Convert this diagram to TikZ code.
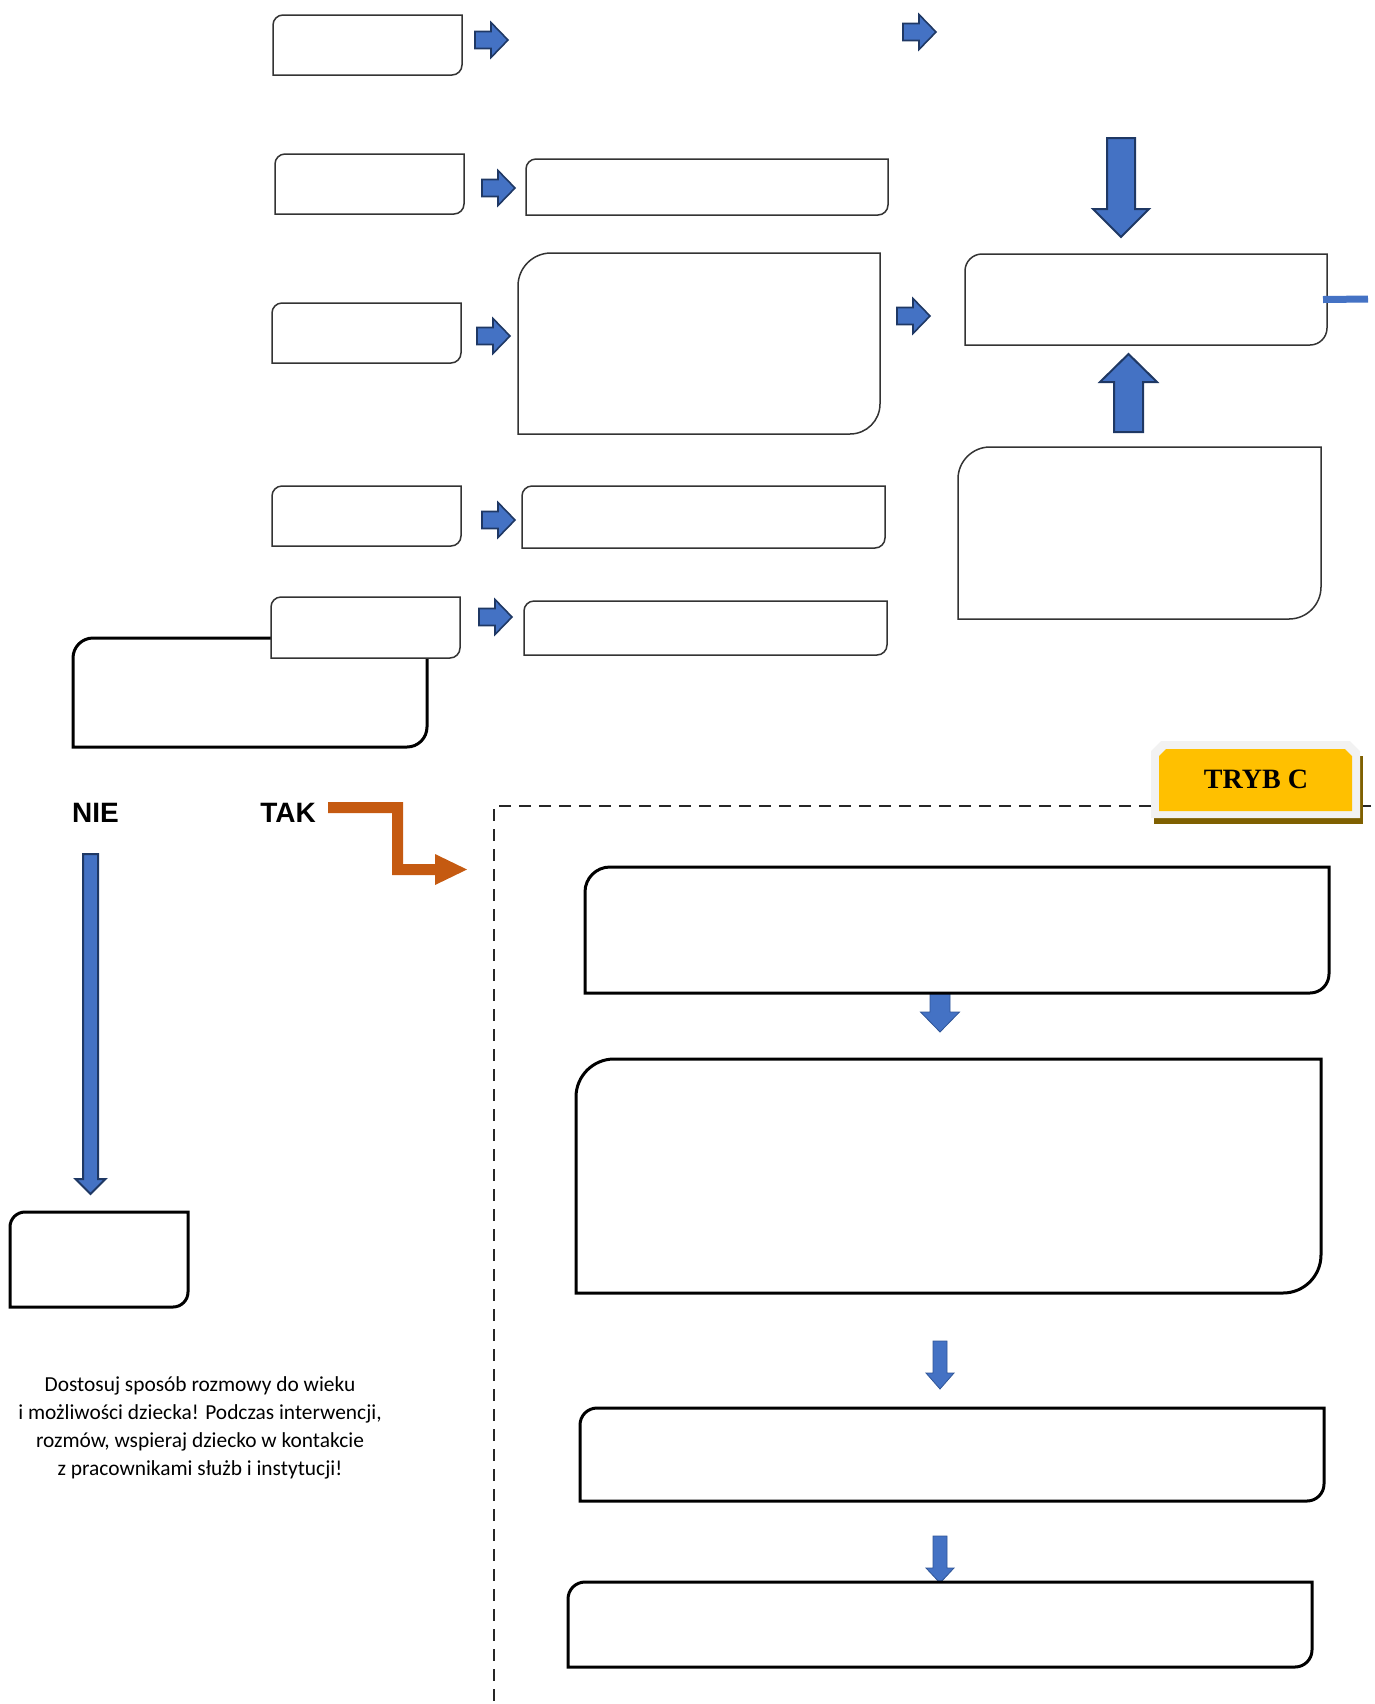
\documentclass[tikz,border=0pt]{standalone}
\usepackage{fontspec}
\setmainfont{Liberation Serif}
\newfontfamily\carlito{Carlito}
\newfontfamily\arialf{Liberation Sans}
\usetikzlibrary{fit}
\definecolor{ablue}{HTML}{4472C4}
\definecolor{adark}{HTML}{1F3864}
\definecolor{aborder}{HTML}{2F5597}
\definecolor{aorange}{HTML}{C55A11}
\definecolor{gold}{HTML}{FFC000}
\definecolor{goldsh}{HTML}{7F6000}
\definecolor{badgegray}{HTML}{F2F2F2}
\tikzset{
  boxline/.style={draw=black!80, line width=0.75pt, fill=white},
  thickbox/.style={draw=black, line width=1.5pt},
  smallarr/.style={fill=ablue, draw=adark, line width=0.8pt, line join=miter},
  bigarr/.style={fill=ablue, draw=adark, line width=1pt, line join=miter},
  botarr/.style={fill=ablue, draw=aborder, line width=0.4pt, line join=miter},
  dashline/.style={draw=black!85, line width=1pt, dash pattern=on 6pt off 4pt},
  blueline/.style={draw=ablue, line width=3.5pt},
  orangearr/.style={fill=aorange, draw=none},
}
% optional style, name, x1, y1, x2, y2, r top-left, r bottom-right
\newcommand{\cbox}[8][]{%
  \coordinate (#2-nw) at (#3,#4);
  \coordinate (#2-se) at (#5,#6);
  \node[fit=(#2-nw)(#2-se), inner sep=0pt, outer sep=0pt] (#2) {};
  \draw[boxline,#1] (#3,#6) -- ({#3},{#4+#7}) .. controls ({#3},{#4+0.448*#7}) and ({#3+0.448*#7},{#4}) .. ({#3+#7},{#4}) -- (#5,#4) -- ({#5},{#6-#8}) .. controls ({#5},{#6-0.448*#8}) and ({#5-0.448*#8},{#6}) .. ({#5-#8},{#6}) -- cycle;
}
% right block arrow: left x, centre y
\newcommand{\rarr}[2]{%
  \draw[smallarr] (#1,{#2-8.5}) -- ({#1+16},{#2-8.5}) -- ({#1+16},{#2-17.5}) -- ({#1+33},{#2}) -- ({#1+16},{#2+17.5}) -- ({#1+16},{#2+8.5}) -- (#1,{#2+8.5}) -- cycle;
}
% vertical block arrow: style, xc, y start, y head base, y tip, shaft half, head half
\newcommand{\darr}[7][]{%
  \draw[#1] ({#2-#6},#3) -- ({#2+#6},#3) -- ({#2+#6},#4) -- ({#2+#7},#4) -- (#2,#5) -- ({#2-#7},#4) -- ({#2-#6},#4) -- cycle;
}
\begin{document}
\begin{tikzpicture}[x=0.5pt, y=-0.5pt]
\useasboundingbox (0,0) rectangle (1375,1704);

% dashed frame
\draw[dashline] (1371,806) -- (494,806) -- (494,1704);

% top block: left column boxes
\cbox{L1}{273}{15}{462}{75}{10}{10}
\cbox{L2}{275}{154}{464}{214}{10}{10}
\cbox{L3}{272}{303}{461}{363}{10}{10}
\cbox{L4}{272}{486}{461}{546}{10}{10}
\cbox[thickbox]{LB}{73}{638}{427}{747}{20}{20}
\cbox{L5}{271}{597}{460}{658}{10}{10}

% middle column boxes
\cbox{M2}{526}{159}{888}{215}{10}{10}
\cbox{M3}{518}{253}{880}{434}{33}{30}
\cbox{M4}{522}{486}{885}{548}{10}{10}
\cbox{M5}{524}{601}{887}{655}{10}{10}

% right column boxes
\cbox{R1}{965}{254}{1327}{345}{17}{17}
\cbox{R2}{958}{447}{1321}{619}{32}{32}

% small right arrows
\rarr{475}{40}
\rarr{903}{32}
\rarr{482}{188}
\rarr{477}{336}
\rarr{897}{316}
\rarr{482}{520}
\rarr{479}{617}

% big arrows into R1
\darr[bigarr]{1121}{138}{209}{237}{14}{28}
\darr[bigarr]{1128.5}{432}{382}{354}{14.5}{28.5}

% blue line leaving R1
\coordinate (rend) at (1368,299);
\draw[blueline] ([xshift=-2pt]R1.east) -- (rend);

% NIE / TAK
\node[font=\arialf\bfseries\fontsize{14}{16}\selectfont, inner sep=0pt] (nie) at (95.5,812.5) {NIE};
\node[font=\arialf\bfseries\fontsize{14}{16}\selectfont, inner sep=0pt] (tak) at (288,812.5) {TAK};

% NIE arrow and box
\darr[bigarr]{90.5}{854}{1179}{1194}{7.5}{15}
\cbox[thickbox]{NB}{10}{1212}{188}{1307}{15}{15}

% orange bent arrow
\fill[orangearr] (328,802) -- (403,802) -- (403,864) -- (435,864) -- (435,854) -- (467,869.5) -- (435,885) -- (435,875) -- (392,875) -- (392,813) -- (328,813) -- cycle;

% TRYB C badge
\fill[goldsh] (1154,756) rectangle (1363,824);
\fill[badgegray] (1151,818) -- (1151,751) -- (1161,741) -- (1350,741) -- (1360,751) -- (1360,818) -- cycle;
\fill[gold] (1159,811) -- (1159,756) -- (1166,749) -- (1345,749) -- (1352,756) -- (1352,811) -- cycle;
\node[font=\bfseries\fontsize{14}{16}\selectfont, inner sep=0pt] (tryb) at (1256,779) {TRYB C};

% bottom section
\darr[botarr]{940}{985}{1012}{1032}{10}{19.5}
\cbox[thickbox]{B1}{585}{867}{1329}{993}{25}{19}
\cbox[thickbox]{B2}{576}{1059}{1321}{1293}{38}{38}
\darr[botarr]{940}{1341}{1373}{1389}{7}{14}
\cbox[thickbox]{B3}{580}{1408}{1324}{1501}{17}{17}
\darr[botarr]{940}{1536}{1568}{1583}{7}{14}
\cbox[thickbox]{B4}{568}{1582}{1312}{1667}{17}{17}

% note
\node[font=\carlito\fontsize{10.7}{14}\selectfont, align=center, inner sep=0pt] (note) at (200,1428) {Dostosuj sposób rozmowy do wieku\\i możliwości dziecka! Podczas interwencji,\\rozmów, wspieraj dziecko w kontakcie\\z pracownikami służb i instytucji!};
\end{tikzpicture}
\end{document}
